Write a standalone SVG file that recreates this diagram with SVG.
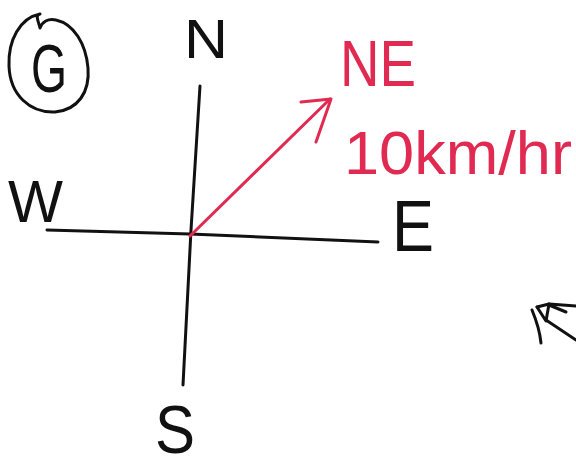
<svg xmlns="http://www.w3.org/2000/svg" width="576" height="466" viewBox="0 0 576 466">
  <style>
    .ink { fill: none; stroke: #111; stroke-width: 3; stroke-linecap: round; stroke-linejoin: round; }
    .red { fill: none; stroke: #e02a52; stroke-width: 3; stroke-linecap: round; stroke-linejoin: round; }
    .lbl { font-family: "Liberation Sans", Arial, sans-serif; fill: #111; }
    .rlbl { font-family: "Liberation Sans", Arial, sans-serif; fill: #e02a52; }
  </style>
  <rect width="576" height="466" fill="#ffffff"/>
  <g id="badge-g">
    <path class="ink" d="M40 14 C20 18 8 40 9 66 C10 95 30 113 55 112 C78 110 90 92 88 68 C86 44 74 24 56 20 C48 18 42 22 40 28 C38 20 35 15 40 14"/>
    <text class="lbl" x="31" y="92" font-size="68" textLength="36" lengthAdjust="spacingAndGlyphs">G</text>
  </g>
  <g id="label-n">
    <text class="lbl" x="184" y="58" font-size="56" textLength="44" lengthAdjust="spacingAndGlyphs">N</text>
  </g>
  <g id="label-w">
    <text class="lbl" x="8" y="222" font-size="60" textLength="55" lengthAdjust="spacingAndGlyphs">W</text>
  </g>
  <g id="label-e">
    <text class="lbl" x="392" y="251" font-size="72" textLength="42" lengthAdjust="spacingAndGlyphs">E</text>
  </g>
  <g id="label-s">
    <text class="lbl" x="155" y="453" font-size="68" textLength="40" lengthAdjust="spacingAndGlyphs">S</text>
  </g>
  <g id="label-ne">
    <text class="rlbl" x="340" y="86" font-size="65" textLength="76" lengthAdjust="spacingAndGlyphs">NE</text>
  </g>
  <g id="label-speed">
    <text class="rlbl" x="344" y="174" font-size="62" textLength="228" lengthAdjust="spacingAndGlyphs">10km/hr</text>
  </g>
  <g id="connectors">
    <path class="ink" d="M200 86 L191 230 L183 385"/>
    <path class="ink" d="M47 230 L190 234 L378 242"/>
    <path class="red" d="M190 236 L330 99"/>
    <path class="red" d="M301 102 L331 99 L316 142"/>
  </g>
  <g id="mark">
    <path class="ink" d="M532 310 C537 322 540 333 541 343"/>
    <path class="ink" d="M537 307 L549 304 L576 306"/>
    <path class="ink" d="M537 307 L546 321 L549 304"/>
    <path class="ink" d="M549 305 L566 312"/>
    <path class="ink" d="M546 320 L576 340" stroke="#888"/>
  </g>
</svg>
